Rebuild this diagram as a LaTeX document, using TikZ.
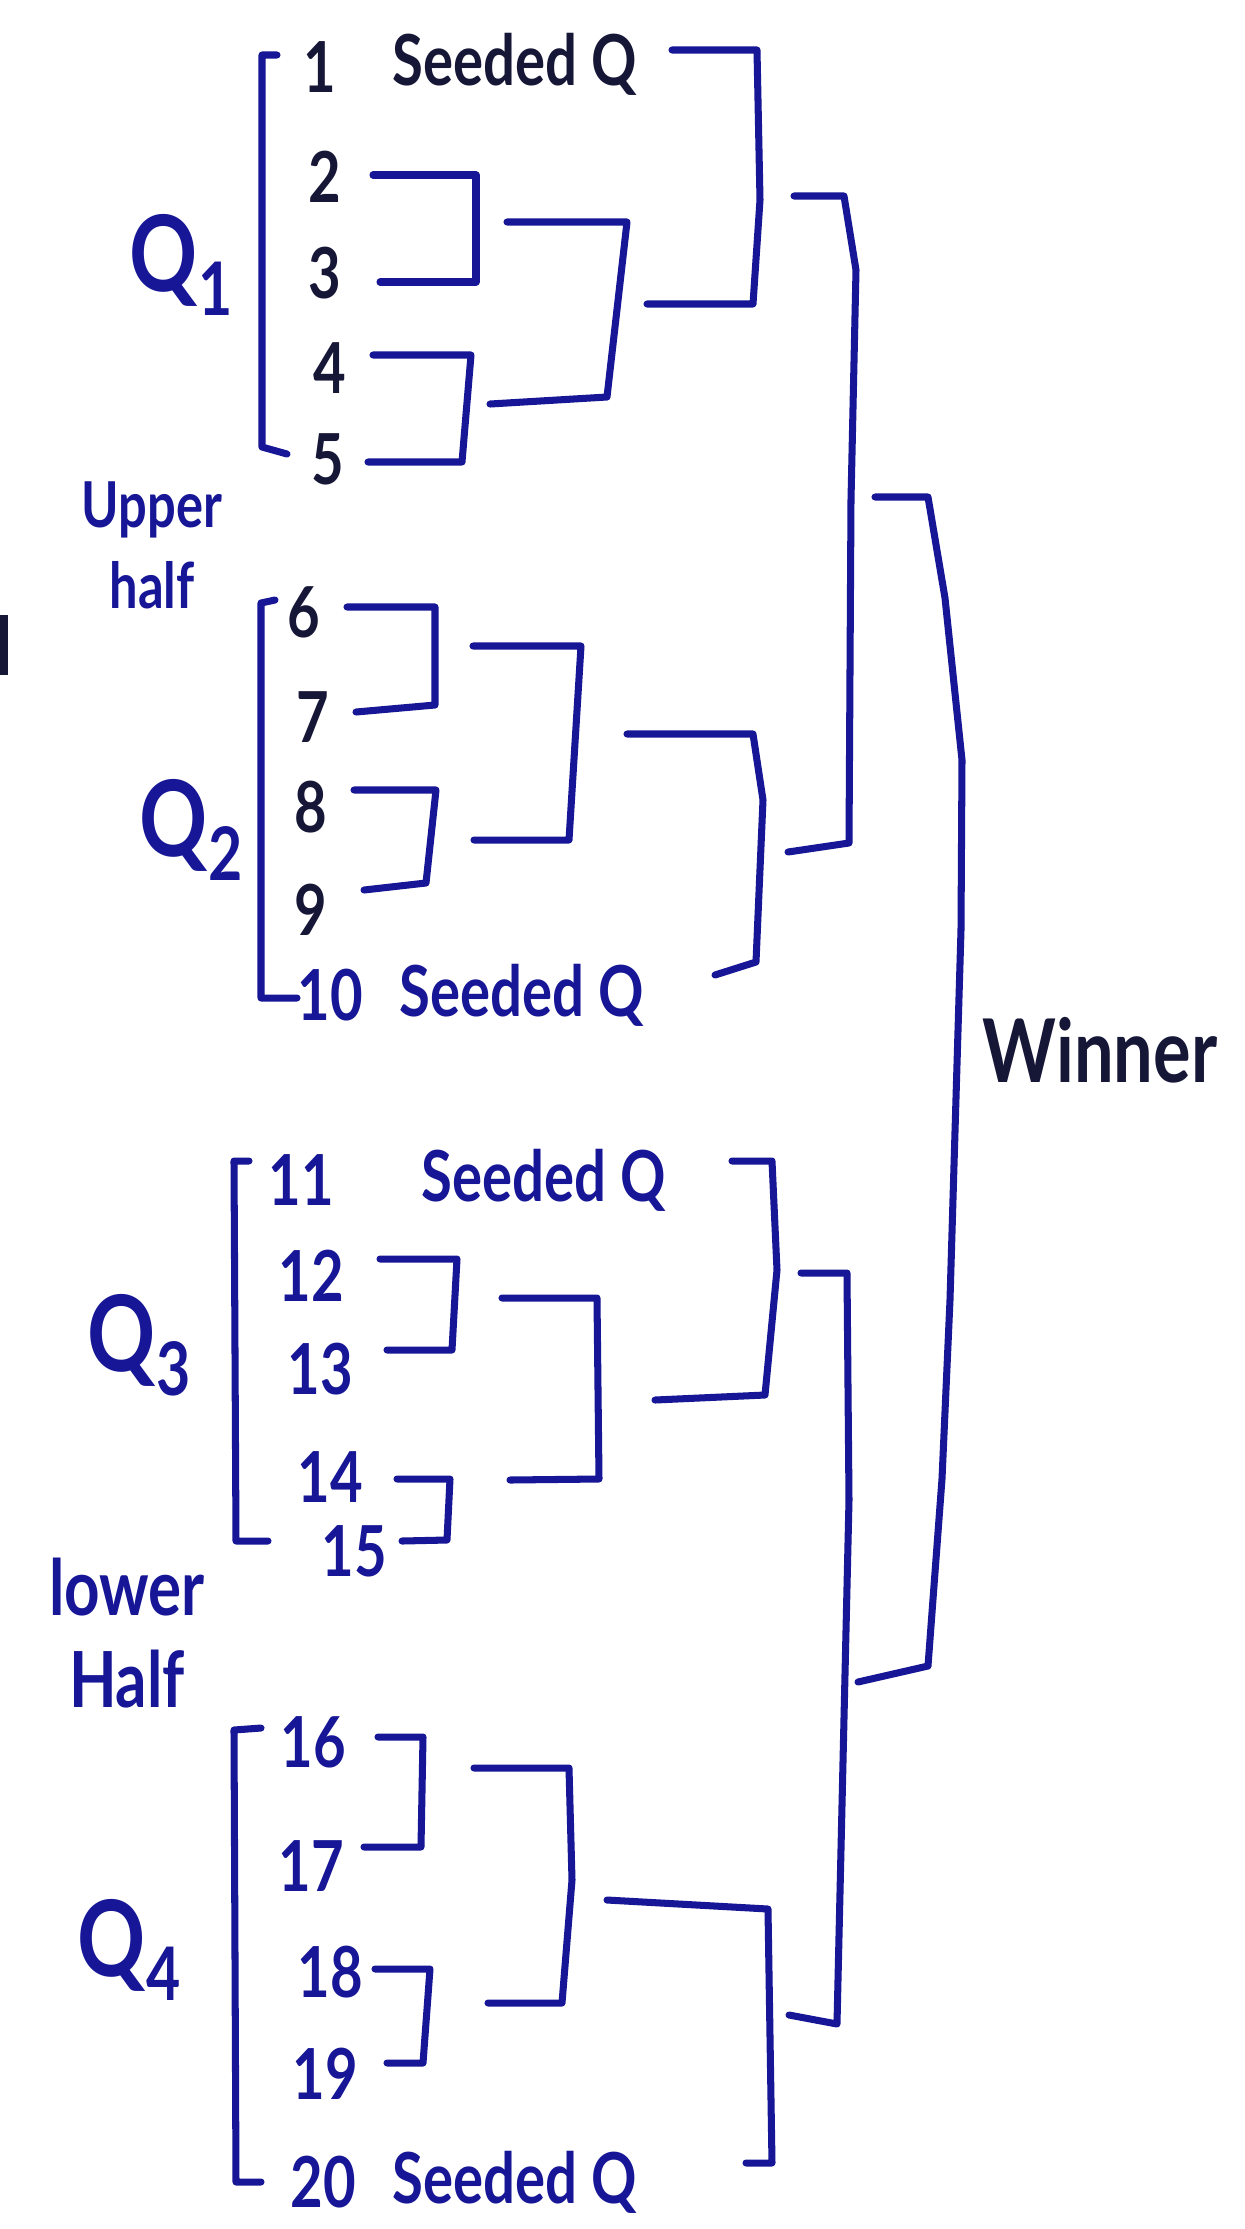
\documentclass[tikz,border=0pt]{standalone}
\usepackage{fontspec}
\setmainfont{Lato}[FakeStretch=0.8]
\usepackage{xcolor}
\usepackage{tikz}

\definecolor{ink}{RGB}{22,22,150}
\definecolor{darkink}{RGB}{22,22,55}

\begin{document}
\begin{tikzpicture}[
  x=0.01cm, y=-0.01cm,
  seatlabel/.style={text=darkink, inner sep=0pt, font=\fontsize{20}{24}\selectfont\bfseries},
  seatblue/.style={seatlabel, text=ink},
  seedlabel/.style={anchor=west, inner sep=0pt, font=\fontsize{20}{24}\selectfont\bfseries},
  qlabel/.style={text=ink, inner sep=0pt, font=\fontsize{30}{36}\selectfont\bfseries},
  halflabel/.style={text=ink, align=center, inner sep=0pt},
  wire/.style={draw=ink, line width=2pt, line join=round, line cap=round}
]
\useasboundingbox[fill=white] (0,0) rectangle (1245,2229);

% quarter labels and halves
\node[qlabel] (q1) at (182,265) {Q\textsubscript{1}};
\node[qlabel] (q2) at (192,830) {Q\textsubscript{2}};
\node[qlabel] (q3) at (140,1345) {Q\textsubscript{3}};
\node[qlabel] (q4) at (130,1950) {Q\textsubscript{4}};
\node[halflabel, font=\fontsize{18}{23}\selectfont\bfseries] (upper) at (152,545) {Upper\\half};
\node[halflabel, font=\fontsize{22}{26}\selectfont\bfseries] (lower) at (127,1633) {lower\\Half};
\node[text=darkink, inner sep=0pt, font=\fontsize{25}{30}\selectfont\bfseries] (winner) at (1100,1050) {Winner};

% Q1
\node[seatlabel] (n1) at (320,67) {1};
\node[seedlabel, text=darkink] (seedA) at (392,64) {Seeded Q};
\node[seatlabel] (n2) at (325,177) {2};
\node[seatlabel] (n3) at (325,273) {3};
\node[seatlabel] (n4) at (330,368) {4};
\node[seatlabel] (n5) at (328,459) {5};

% Q2
\node[seatlabel] (n6) at (304,612) {6};
\node[seatlabel] (n7) at (313,717) {7};
\node[seatlabel] (n8) at (311,807) {8};
\node[seatlabel] (n9) at (311,910) {9};
\node[seatblue] (n10) at (330,995) {10};
\node[seedlabel, text=ink] (seedB) at (399,995) {Seeded Q};

% Q3
\node[seatblue] (n11) at (301,1180) {11};
\node[seedlabel, text=ink] (seedC) at (421,1180) {Seeded Q};
\node[seatblue] (n12) at (311,1276) {12};
\node[seatblue] (n13) at (320,1369) {13};
\node[seatblue] (n14) at (330,1477) {14};
\node[seatblue] (n15) at (354,1551) {15};

% Q4
\node[seatblue] (n16) at (313,1742) {16};
\node[seatblue] (n17) at (311,1866) {17};
\node[seatblue] (n18) at (330,1972) {18};
\node[seatblue] (n19) at (325,2074) {19};
\node[seatblue] (n20) at (323,2182) {20};
\node[seedlabel, text=ink] (seedD) at (392,2182) {Seeded Q};

% left brackets round each quarter
\draw[wire] (277,55) -- (262,55) -- (262,447) -- (287,454);
\draw[wire] (275,600) -- (261,603) -- (261,998) -- (297,998);
\draw[wire] (249,1161) -- (234,1161) -- (236,1541) -- (268,1541);
\draw[wire] (261,1728) -- (234,1730) -- (236,2182) -- (261,2182);

% first round
\draw[wire] (373,175) -- (476,175) -- (476,282) -- (380,282);
\draw[wire] (373,355) -- (471,355) -- (462,462) -- (368,462);
\draw[wire] (347,607) -- (435,607) -- (435,705) -- (356,712);
\draw[wire] (354,790) -- (436,790) -- (426,883) -- (364,890);
\draw[wire] (380,1259) -- (457,1259) -- (452,1350) -- (387,1350);
\draw[wire] (397,1479) -- (450,1479) -- (447,1540) -- (402,1541);
\draw[wire] (378,1737) -- (423,1737) -- (421,1847) -- (364,1847);
\draw[wire] (375,1969) -- (430,1969) -- (423,2063) -- (387,2063);

% second round
\draw[wire] (507,222) -- (627,222) -- (607,397) -- (490,404);
\draw[wire] (473,646) -- (581,646) -- (569,840) -- (474,840);
\draw[wire] (502,1298) -- (597,1298) -- (599,1479) -- (510,1480);
\draw[wire] (474,1768) -- (569,1768) -- (572,1880) -- (562,2003) -- (488,2003);

% seeded team meets the qualifier
\draw[wire] (672,50) -- (757,50) -- (760,200) -- (753,304) -- (647,304);
\draw[wire] (627,734) -- (753,734) -- (763,800) -- (756,962) -- (715,975);
\draw[wire] (732,1161) -- (772,1161) -- (777,1270) -- (765,1395) -- (655,1400);
\draw[wire] (607,1900) -- (768,1909) -- (772,2163) -- (746,2163);

% upper and lower half
\draw[wire] (794,196) -- (844,196) -- (856,270) -- (851,500) -- (849,843) -- (788,852);
\draw[wire] (801,1273) -- (847,1273) -- (849,1500) -- (837,2024) -- (789,2015);

% final
\draw[wire] (875,497) -- (928,497) -- (945,598) -- (962,760) -- (961,930)
  -- (950,1300) -- (942,1479) -- (928,1666) -- (858,1682);

% mark at the left edge
\draw[draw=darkink, line width=2pt] (4,615) -- (4,675);
\end{tikzpicture}
\end{document}
